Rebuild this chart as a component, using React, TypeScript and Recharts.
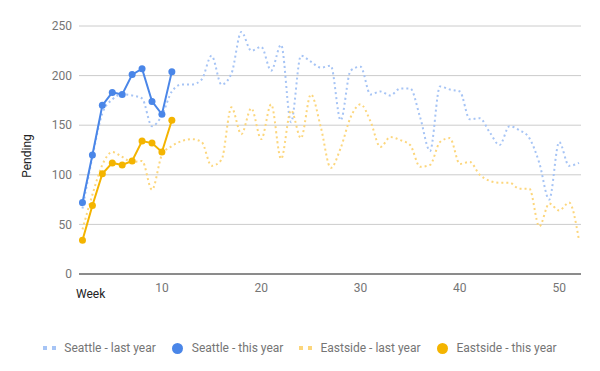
import { LineChart, Line, XAxis, YAxis, CartesianGrid } from "recharts";

document.body.style.margin = "0";

// weeks 2..52 (last year), weeks 2..11 (this year)
const lastYearWeeks = [
  2, 3, 4, 5, 6, 7, 8, 9, 10, 11, 12, 13, 14, 15, 16, 17, 18, 19, 20, 21, 22, 23, 24, 25, 26, 27,
  28, 29, 30, 31, 32, 33, 34, 35, 36, 37, 38, 39, 40, 41, 42, 43, 44, 45, 46, 47, 48, 49, 50, 51, 52,
];
const thisYearWeeks = [2, 3, 4, 5, 6, 7, 8, 9, 10, 11];

const seattleLastYear = [
  66, 118, 162, 176, 181, 180, 177, 149, 160, 184,
  191, 191, 196, 220, 191, 202, 244, 225, 229, 205,
  231, 153, 220, 214, 208, 210, 155, 205, 209, 181,
  184, 180, 187, 187, 158, 124, 189, 186, 184, 156,
  157, 143, 130, 149, 145, 137, 112, 75, 133, 109, 112,
];
const eastsideLastYear = [
  45, 80, 110, 123, 118, 113, 114, 85, 120, 129,
  134, 136, 133, 109, 115, 168, 141, 167, 136, 171,
  116, 165, 137, 181, 148, 107, 127, 158, 171, 154,
  128, 138, 135, 130, 108, 110, 133, 137, 111, 113,
  100, 94, 92, 92, 86, 86, 48, 71, 64, 72, 34,
];
const seattleThisYear = [72, 120, 170, 183, 181, 201, 207, 174, 161, 204];
const eastsideThisYear = [34, 69, 101, 112, 110, 114, 134, 132, 123, 155];

const xTicks = [10, 20, 30, 40, 50];
const yTicks = [0, 50, 100, 150, 200, 250];

const data = lastYearWeeks.map((week, i) => {
  const j = thisYearWeeks.indexOf(week);
  return {
    week,
    seattleLast: seattleLastYear[i],
    eastsideLast: eastsideLastYear[i],
    seattleThis: j >= 0 ? seattleThisYear[j] : undefined,
    eastsideThis: j >= 0 ? eastsideThisYear[j] : undefined,
  };
});

const C = {
  seaLight: "#a6c4f5",
  eastLight: "#fcd67c",
  sea: "#4a86e8",
  east: "#f4b400",
};

const FONT = "Roboto, 'Noto Sans', Arial, sans-serif";
const tickStyle = { fill: "#757575", fontSize: 12, fontFamily: FONT };

function DotIcon({ color }: { color: string }) {
  return (
    <span style={{ display: "inline-flex", gap: 5, marginRight: 8 }}>
      <span style={{ width: 4, height: 4, background: color }} />
      <span style={{ width: 4, height: 4, background: color }} />
    </span>
  );
}

function CircleIcon({ color }: { color: string }) {
  return (
    <span
      style={{ width: 11, height: 11, borderRadius: "50%", background: color, marginRight: 9, display: "inline-block" }}
    />
  );
}

const legendItems = [
  { label: "Seattle - last year", color: C.seaLight, dotted: true },
  { label: "Seattle - this year", color: C.sea, dotted: false },
  { label: "Eastside - last year", color: C.eastLight, dotted: true },
  { label: "Eastside - this year", color: C.east, dotted: false },
];

export default function App() {
  return (
    <div style={{ position: "relative", width: 600, height: 371, background: "#fff", fontFamily: FONT }}>
      <LineChart width={600} height={371} data={data} margin={{ top: 26, right: 19, left: 0, bottom: 67 }}>
        <CartesianGrid vertical={false} stroke="#cccccc" />
        <XAxis
          dataKey="week"
          type="number"
          domain={[1.65, 52.2]}
          ticks={xTicks}
          height={30}
          tickLine={false}
          tickSize={0}
          tickMargin={9}
          axisLine={{ stroke: "#333333" }}
          tick={tickStyle}
          allowDataOverflow
        />
        <YAxis
          domain={[0, 250]}
          ticks={yTicks}
          width={79}
          tickLine={false}
          axisLine={false}
          tickSize={0}
          tickMargin={7}
          tick={tickStyle}
        />
        <Line
          dataKey="seattleLast"
          type="monotone"
          stroke={C.seaLight}
          strokeWidth={2}
          strokeDasharray="2 3"
          dot={false}
          activeDot={false}
          isAnimationActive={false}
        />
        <Line
          dataKey="eastsideLast"
          type="monotone"
          stroke={C.eastLight}
          strokeWidth={2}
          strokeDasharray="2 3"
          dot={false}
          activeDot={false}
          isAnimationActive={false}
        />
        <Line
          dataKey="seattleThis"
          type="linear"
          stroke={C.sea}
          strokeWidth={2}
          dot={{ r: 3.5, fill: C.sea, stroke: C.sea, strokeWidth: 0 }}
          activeDot={false}
          isAnimationActive={false}
        />
        <Line
          dataKey="eastsideThis"
          type="linear"
          stroke={C.east}
          strokeWidth={2}
          dot={{ r: 3.5, fill: C.east, stroke: C.east, strokeWidth: 0 }}
          activeDot={false}
          isAnimationActive={false}
        />
      </LineChart>

      {/* axis titles */}
      <div
        style={{
          position: "absolute", left: 27, top: 156, fontSize: 12, color: "#222",
          transform: "translate(-50%, -50%) rotate(-90deg)", whiteSpace: "nowrap", lineHeight: "14px",
        }}
      >
        Pending
      </div>
      <div style={{ position: "absolute", left: 76, top: 287, fontSize: 12, color: "#222", lineHeight: "14px" }}>
        Week
      </div>

      {/* legend */}
      <div
        style={{
          position: "absolute", left: 0, top: 340, width: 600, display: "flex",
          justifyContent: "center", alignItems: "center", gap: 16, fontSize: 12, color: "#757575", lineHeight: "16px",
        }}
      >
        {legendItems.map((it) => (
          <div key={it.label} style={{ display: "flex", alignItems: "center" }}>
            {it.dotted ? <DotIcon color={it.color} /> : <CircleIcon color={it.color} />}
            <span>{it.label}</span>
          </div>
        ))}
      </div>
    </div>
  );
}
